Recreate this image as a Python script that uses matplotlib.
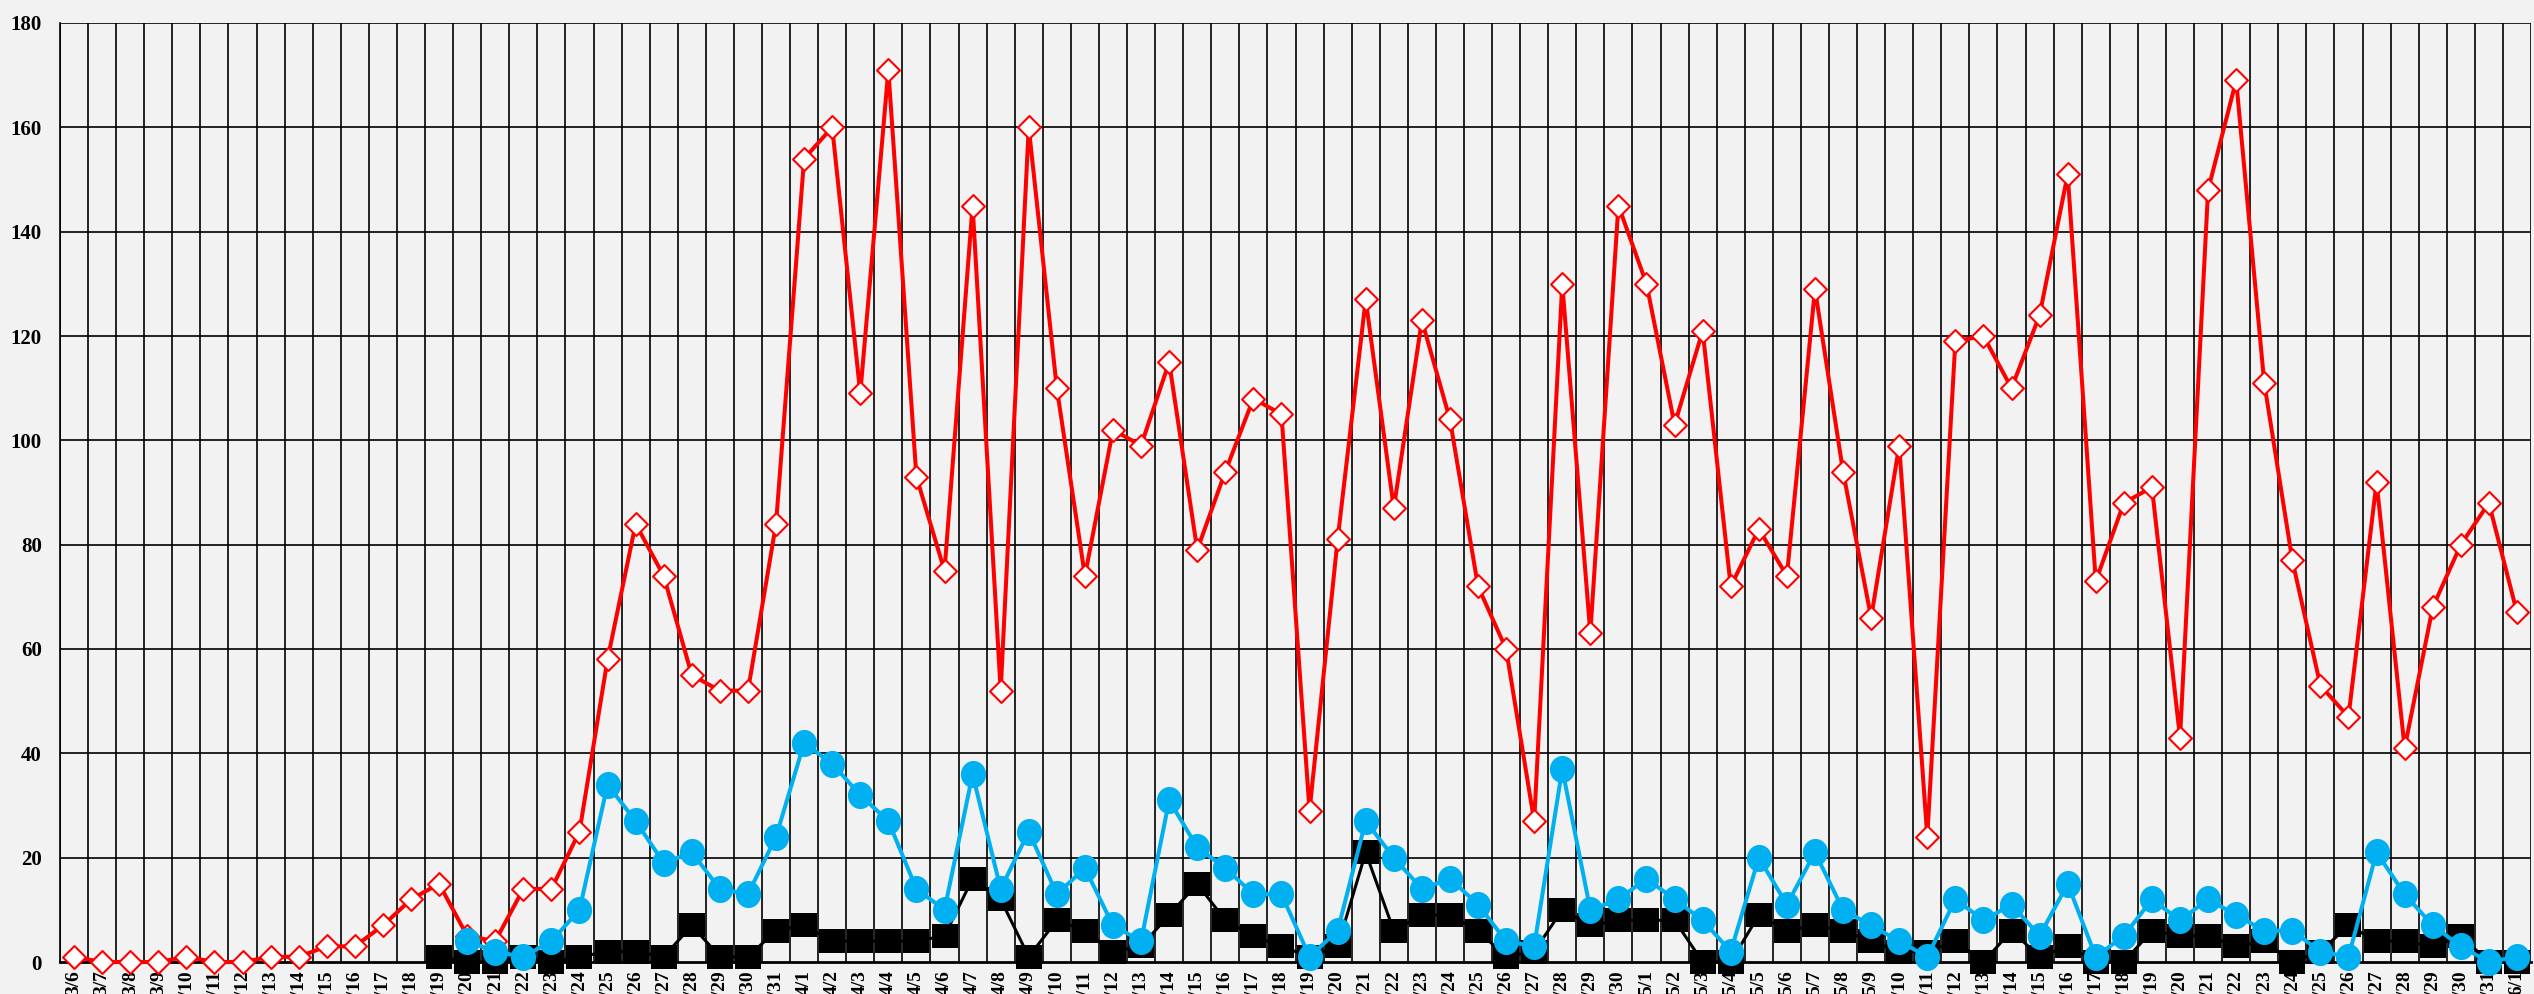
import matplotlib
matplotlib.use("Agg")
import matplotlib.pyplot as plt
import numpy as np
from matplotlib.path import Path

# ---- data ----
dates = (["3/%d" % d for d in range(6, 32)] +
         ["4/%d" % d for d in range(1, 31)] +
         ["5/%d" % d for d in range(1, 32)] + ["6/1"])

red_values = [1, 0, 0, 0, 1, 0, 0, 1, 1, 3, 3, 7, 12, 15, 5, 4, 14, 14, 25, 58,
              84, 74, 55, 52, 52, 84,
              154, 160, 109, 171, 93, 75, 145, 52, 160, 110, 74, 102, 99, 115, 79,
              94, 108, 105, 29, 81, 127, 87, 123, 104, 72, 60, 27, 130, 63, 145,
              130, 103, 121, 72, 83, 74, 129, 94, 66, 99, 24, 119, 120, 110, 124,
              151, 73, 88, 91, 43, 148, 169, 111, 77, 53, 47, 92, 41, 68, 80, 88,
              67]

# cyan series starts at 3/20
cyan_start = "3/20"
cyan_values = [4, 2, 1, 4, 10, 34, 27, 19, 21, 14, 13, 24,
               42, 38, 32, 27, 14, 10, 36, 14, 25, 13, 18, 7, 4, 31, 22, 18, 13, 13,
               1, 6, 27, 20, 14, 16, 11, 4, 3, 37, 10, 12,
               16, 12, 8, 2, 20, 11, 21, 10, 7, 4, 1, 12, 8, 11, 5, 15, 1, 5, 12, 8,
               12, 9, 6, 6, 2, 1, 21, 13, 7, 3, 0,
               1]

# black series starts at 3/19
black_start = "3/19"
black_values = [1, 0, 0, 1, 0, 1, 2, 2, 1, 7, 1, 1, 6,
                7, 4, 4, 4, 4, 5, 16, 12, 1, 8, 6, 2, 3, 9, 15, 8, 5, 3,
                1, 3, 21, 6, 9, 9, 6, 1, 2, 10, 7, 8,
                8, 8, 0, 0, 9, 6, 7, 6, 4, 2, 2, 4, 0, 6, 1, 3, 0, 0, 6, 5,
                5, 3, 4, 0, 2, 7, 4, 4, 3, 5, 0,
                0]

yticks = [0, 20, 40, 60, 80, 100, 120, 140, 160, 180]

# ---- figure ----
BG = "#f2f2f2"
W, H = 2534, 994
fig = plt.figure(figsize=(W / 100, H / 100), dpi=100, facecolor=BG)
ax = fig.add_axes([60 / W, (H - 962) / H, (2531 - 60) / W, (962 - 23) / H])
ax.set_facecolor(BG)

n = len(dates)
x = np.arange(n)
xc = np.arange(dates.index(cyan_start), dates.index(cyan_start) + len(cyan_values))
xb = np.arange(dates.index(black_start), dates.index(black_start) + len(black_values))

# custom markers
t = np.linspace(0, 2 * np.pi, 60)
ellipse = Path(np.column_stack([0.465 * np.cos(t), 0.5 * np.sin(t)]), closed=True)
rect = Path([(-0.5, -0.465), (0.5, -0.465), (0.5, 0.465), (-0.5, 0.465), (-0.5, -0.465)],
            closed=True)
diamond = Path([(0, 0.5), (0.5, 0), (0, -0.5), (-0.5, 0), (0, 0.5)], closed=True)

ax.plot(xb, black_values, color="black", lw=2.2, marker=rect, ms=19.2,
        mfc="black", mec="black", mew=0, zorder=3, clip_on=False)
ax.plot(x, red_values, color="#ff0000", lw=2.9, marker=diamond, ms=16.5,
        mfc="white", mec="#ff0000", mew=1.5, zorder=4, clip_on=False)
ax.plot(xc, cyan_values, color="#00b0f0", lw=2.9, marker=ellipse, ms=19.5,
        mfc="#00b0f0", mec="#00b0f0", mew=0, zorder=5, clip_on=False)

ax.set_xlim(-0.5, n - 0.5)
ax.set_ylim(0, 180)

# grid
for v in yticks[1:]:
    ax.axhline(v, color="black", lw=1.2, zorder=1)
for b in np.arange(-0.5, n + 0.5, 1.0):
    ax.axvline(b, color="black", lw=1.2, zorder=1)

for s in ["top", "right"]:
    ax.spines[s].set_visible(False)
ax.spines["left"].set_color("black")
ax.spines["left"].set_linewidth(1.2)
ax.spines["bottom"].set_color("black")
ax.spines["bottom"].set_linewidth(2.0)
ax.spines["bottom"].set_zorder(2)

font = dict(family=["Liberation Serif", "DejaVu Serif"], weight="bold")
ax.set_yticks(yticks)
ax.set_yticklabels([str(v) for v in yticks], fontsize=15, **font)
ax.set_xticks(x)
ax.set_xticklabels(dates, rotation=90, fontsize=14, **font)
ax.tick_params(axis="y", length=0, pad=13)
ax.tick_params(axis="x", length=0, pad=6)

fig.savefig("out.png", dpi=100, facecolor=BG)
